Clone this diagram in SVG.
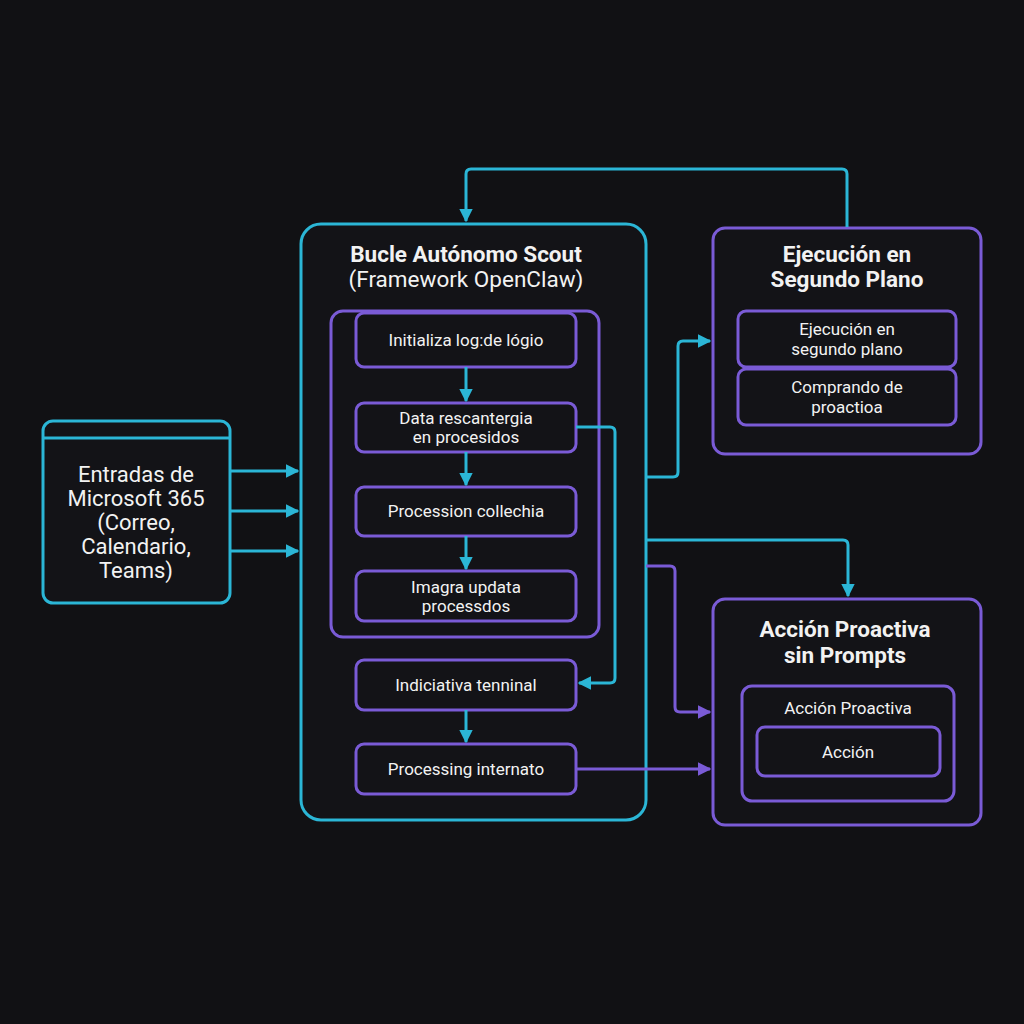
<svg xmlns="http://www.w3.org/2000/svg" width="1024" height="1024" viewBox="0 0 1024 1024">
<defs>
<style>
.bg{fill:#111114}
.cy{fill:#131317;stroke:#2bb6d6;stroke-width:3}
.pu{fill:#131317;stroke:#7a5bd6;stroke-width:3}
.puo{fill:none;stroke:#7a5bd6;stroke-width:3}
.lc{fill:none;stroke:#2bb6d6;stroke-width:3;stroke-linejoin:round}
.lp{fill:none;stroke:#7a5bd6;stroke-width:3;stroke-linejoin:round}
text{font-family:Roboto,"Liberation Sans",sans-serif;fill:#f2f2f2;text-anchor:middle}
.t{font-size:22.5px;font-weight:bold}
.s{font-size:22.5px}
.e{font-size:22px}
.n{font-size:17px}
</style>
<marker id="ac" viewBox="0 0 10 10" refX="9" refY="5" markerWidth="4.5" markerHeight="4.5" orient="auto" markerUnits="strokeWidth"><path d="M0,0 L10,5 L0,10 z" fill="#2bb6d6"/></marker>
<marker id="ap" viewBox="0 0 10 10" refX="9" refY="5" markerWidth="4.5" markerHeight="4.5" orient="auto" markerUnits="strokeWidth"><path d="M0,0 L10,5 L0,10 z" fill="#7a5bd6"/></marker>
</defs>
<rect class="bg" width="1024" height="1024"/>

<g id="entradas">
<rect class="cy" x="43" y="421" width="187" height="182" rx="10"/>
<line x1="43" y1="438" x2="230" y2="438" stroke="#2bb6d6" stroke-width="3"/>
<text class="e" x="136" y="482">Entradas de</text>
<text class="e" x="136" y="506">Microsoft 365</text>
<text class="e" x="136" y="530">(Correo,</text>
<text class="e" x="136" y="554">Calendario,</text>
<text class="e" x="136" y="578">Teams)</text>
</g>

<g id="bucle">
<rect class="cy" x="301" y="224" width="345" height="596" rx="20"/>
<text class="t" x="466" y="262">Bucle Autónomo Scout</text>
<text class="s" x="466" y="287">(Framework OpenClaw)</text>
<rect class="puo" x="331" y="311" width="268" height="326" rx="12"/>
</g>

<g id="n1"><rect class="pu" x="356" y="313" width="220" height="54" rx="8"/><text class="n" x="466" y="346">Initializa log:de lógio</text></g>
<g id="n2"><rect class="pu" x="356" y="403" width="220" height="49" rx="8"/><text class="n" x="466" y="424">Data rescantergia</text><text class="n" x="466" y="443">en procesidos</text></g>
<g id="n3"><rect class="pu" x="356" y="487" width="220" height="49" rx="8"/><text class="n" x="466" y="517">Procession collechia</text></g>
<g id="n4"><rect class="pu" x="356" y="571" width="220" height="50" rx="8"/><text class="n" x="466" y="593">Imagra updata</text><text class="n" x="466" y="612">processdos</text></g>
<g id="n5"><rect class="pu" x="356" y="660" width="220" height="50" rx="8"/><text class="n" x="466" y="691">Indiciativa tenninal</text></g>
<g id="n6"><rect class="pu" x="356" y="744" width="220" height="50" rx="8"/><text class="n" x="466" y="775">Processing internato</text></g>

<g id="ejecucion">
<rect class="pu" x="713" y="228" width="268" height="226" rx="12"/>
<text class="t" x="847" y="262">Ejecución en</text>
<text class="t" x="847" y="287">Segundo Plano</text>
<rect class="pu" x="738" y="311" width="218" height="56" rx="8"/>
<text class="n" x="847" y="335">Ejecución en</text>
<text class="n" x="847" y="355">segundo plano</text>
<rect class="pu" x="738" y="369" width="218" height="56" rx="8"/>
<text class="n" x="847" y="393">Comprando de</text>
<text class="n" x="847" y="413">proactioa</text>
</g>

<g id="accion">
<rect class="pu" x="713" y="599" width="268" height="226" rx="12"/>
<text class="t" x="845" y="637">Acción Proactiva</text>
<text class="t" x="845" y="663">sin Prompts</text>
<rect class="pu" x="742" y="686" width="212" height="115" rx="10"/>
<text class="n" x="848" y="714">Acción Proactiva</text>
<rect class="pu" x="757" y="727" width="183" height="49" rx="8"/>
<text class="n" x="848" y="758">Acción</text>
</g>

<g id="connectors">
<line class="lc" x1="230" y1="471" x2="298" y2="471" marker-end="url(#ac)"/>
<line class="lc" x1="230" y1="511" x2="298" y2="511" marker-end="url(#ac)"/>
<line class="lc" x1="230" y1="551" x2="298" y2="551" marker-end="url(#ac)"/>
<line class="lc" x1="466" y1="367" x2="466" y2="401" marker-end="url(#ac)"/>
<line class="lc" x1="466" y1="452" x2="466" y2="485" marker-end="url(#ac)"/>
<line class="lc" x1="466" y1="536" x2="466" y2="569" marker-end="url(#ac)"/>
<line class="lc" x1="466" y1="710" x2="466" y2="742" marker-end="url(#ac)"/>
<path class="lc" d="M576,427 H610 Q615,427 615,432 V678 Q615,683 610,683 H579" marker-end="url(#ac)"/>
<path class="lc" d="M847,227 V174 Q847,169 842,169 H471 Q466,169 466,174 V221" marker-end="url(#ac)"/>
<path class="lc" d="M646,477 H673 Q678,477 678,472 V346 Q678,341 683,341 H710" marker-end="url(#ac)"/>
<path class="lc" d="M646,540 H843 Q848,540 848,545 V596" marker-end="url(#ac)"/>
<path class="lp" d="M646,566 H670 Q675,566 675,571 V707 Q675,712 680,712 H710" marker-end="url(#ap)"/>
<line class="lp" x1="576" y1="769" x2="710" y2="769" marker-end="url(#ap)"/>
</g>
</svg>
